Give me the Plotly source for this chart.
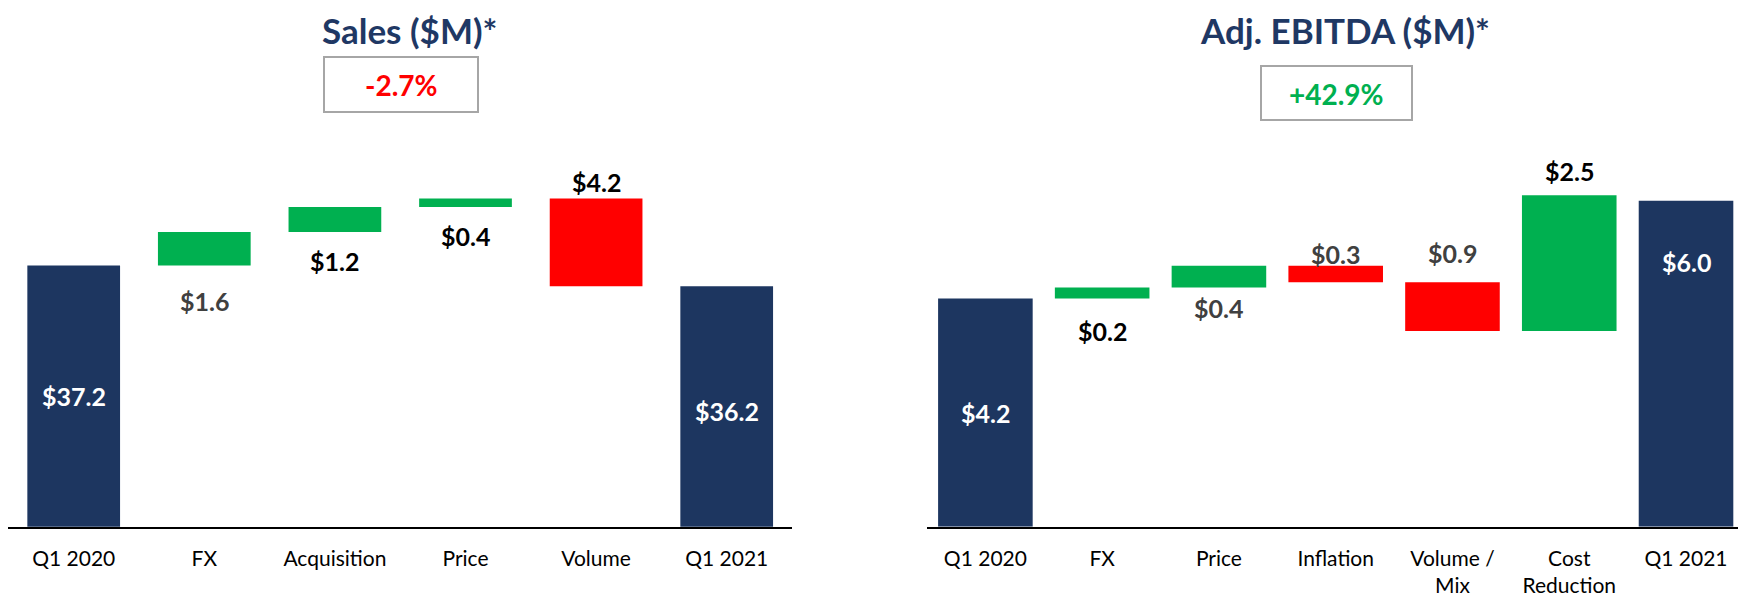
import plotly.graph_objects as go

# page body has an 8px margin: shrink the figure and compensate positions
OFF = 8
W, H = 1746 - OFF, 598 - OFF

# ---------------- data ----------------
sales_categories = ["Q1 2020", "FX", "Acquisition", "Price", "Volume", "Q1 2021"]
sales_values = [37.2, 1.6, 1.2, 0.4, -4.2, 36.2]
sales_measures = ["absolute", "relative", "relative", "relative", "relative", "absolute"]
sales_change = "-2.7%"

ebitda_categories = ["Q1 2020", "FX", "Price", "Inflation", "Volume /<br>Mix", "Cost<br>Reduction", "Q1 2021"]
ebitda_values = [4.2, 0.2, 0.4, -0.3, -0.9, 2.5, 6.0]
ebitda_measures = ["absolute", "relative", "relative", "relative", "relative", "relative", "absolute"]
ebitda_change = "+42.9%"

# ---------------- styles ----------------
NAVY = "#1D3660"
GREEN = "#00B050"
RED = "#FF0000"
GRAY_TXT = "#404040"
FONT = "Lato"

def fx(px):
    return (px - OFF) / W

def fy(py):
    return 1 - (py - OFF) / H

# label styles: (colour, placement, pixel shift)
sales_label_style = [
    ("white", "mid", 0), (GRAY_TXT, "below", -36), ("black", "below", -29),
    ("black", "below", -29), ("black", "above", 17), ("white", "mid", -4),
]
ebitda_label_style = [
    ("white", "mid", 0), ("black", "below", -33), (GRAY_TXT, "below", -20),
    (GRAY_TXT, "above", 12), (GRAY_TXT, "above", 29), ("black", "above", 24),
    ("white", "top", -61),
]

fig = go.Figure()

def add_waterfall(cats, vals, meas, xa, ya, width):
    fig.add_trace(go.Waterfall(
        x=cats, y=vals, measure=meas, xaxis=xa, yaxis=ya, width=width,
        increasing=dict(marker=dict(color=GREEN)),
        decreasing=dict(marker=dict(color=RED)),
        totals=dict(marker=dict(color=NAVY)),
        connector=dict(visible=False),
        textinfo="none", hoverinfo="x+y", showlegend=False,
    ))

add_waterfall(sales_categories, sales_values, sales_measures, "x", "y", 0.71)
add_waterfall(ebitda_categories, ebitda_values, ebitda_measures, "x2", "y2", 0.81)

SALES_MIN, SALES_MAX = 24.7, 43.68
EBITDA_MIN, EBITDA_MAX = 0.0, 7.30

def add_labels(cats, vals, meas, styles, xref, yref, ymin):
    running = 0.0
    for c, v, m, (col, place, shift) in zip(cats, vals, meas, styles):
        if m == "absolute":
            lo, hi = ymin, v
            running = v
            top = v
        else:
            start = running
            running = running + v
            lo, hi = min(start, running), max(start, running)
            top = hi
        if place == "mid":
            yv = (lo + hi) / 2
        elif place == "below":
            yv = lo
        else:
            yv = top if place == "top" else hi
        fig.add_annotation(
            x=c, y=yv, xref=xref, yref=yref, yshift=shift,
            text="$%.1f" % abs(v), showarrow=False, yanchor="middle",
            font=dict(family=FONT, size=25, color=col, weight="bold"),
        )

add_labels(sales_categories, sales_values, sales_measures, sales_label_style, "x", "y", SALES_MIN)
add_labels(ebitda_categories, ebitda_values, ebitda_measures, ebitda_label_style, "x2", "y2", EBITDA_MIN)

# titles
fig.add_annotation(x=fx(409), y=1.0, xref="paper", yref="paper", text="Sales ($M)*",
                   showarrow=False, xanchor="center", yanchor="top", borderpad=0,
                   font=dict(family=FONT, size=35, color="#1F3864", weight="bold"))
fig.add_annotation(x=fx(1345), y=1.0, xref="paper", yref="paper", text="Adj. EBITDA ($M)*",
                   showarrow=False, xanchor="center", yanchor="top", borderpad=0,
                   font=dict(family=FONT, size=35, color="#1F3864", weight="bold"))

# change boxes
fig.add_shape(type="rect", xref="paper", yref="paper", x0=fx(324), x1=fx(478), y0=fy(112), y1=fy(57),
              line=dict(color="#A6A6A6", width=2), fillcolor="white")
fig.add_shape(type="rect", xref="paper", yref="paper", x0=fx(1261), x1=fx(1412), y0=fy(120), y1=fy(66),
              line=dict(color="#A6A6A6", width=2), fillcolor="white")
fig.add_annotation(x=fx(401), y=fy(85), xref="paper", yref="paper", text=sales_change,
                   showarrow=False, xanchor="center", yanchor="middle",
                   font=dict(family=FONT, size=28, color=RED, weight="bold"))
fig.add_annotation(x=fx(1336), y=fy(94), xref="paper", yref="paper", text=ebitda_change,
                   showarrow=False, xanchor="center", yanchor="middle",
                   font=dict(family=FONT, size=28, color=GREEN, weight="bold"))

y_dom = [fy(526.7), fy(130)]
xaxis_common = dict(showline=True, linecolor="black", linewidth=2, showgrid=False, zeroline=False,
                    ticks="", ticklabelstandoff=12,
                    tickfont=dict(family=FONT, size=21, color="black"), fixedrange=True)
yaxis_common = dict(visible=False, showgrid=False, zeroline=False, fixedrange=True)

fig.update_layout(
    width=W, height=H,
    margin=dict(l=0, r=0, t=0, b=0),
    paper_bgcolor="white", plot_bgcolor="white",
    xaxis=dict(domain=[fx(8.4), fx(792)], range=[-0.5, 5.5], anchor="y", **xaxis_common),
    yaxis=dict(domain=y_dom, range=[SALES_MIN, SALES_MAX], anchor="x", **yaxis_common),
    xaxis2=dict(domain=[fx(927), fx(1744.4)], range=[-0.5, 6.5], anchor="y2", **xaxis_common),
    yaxis2=dict(domain=y_dom, range=[EBITDA_MIN, EBITDA_MAX], anchor="x2", **yaxis_common),
)

fig.write_html("out.html")
